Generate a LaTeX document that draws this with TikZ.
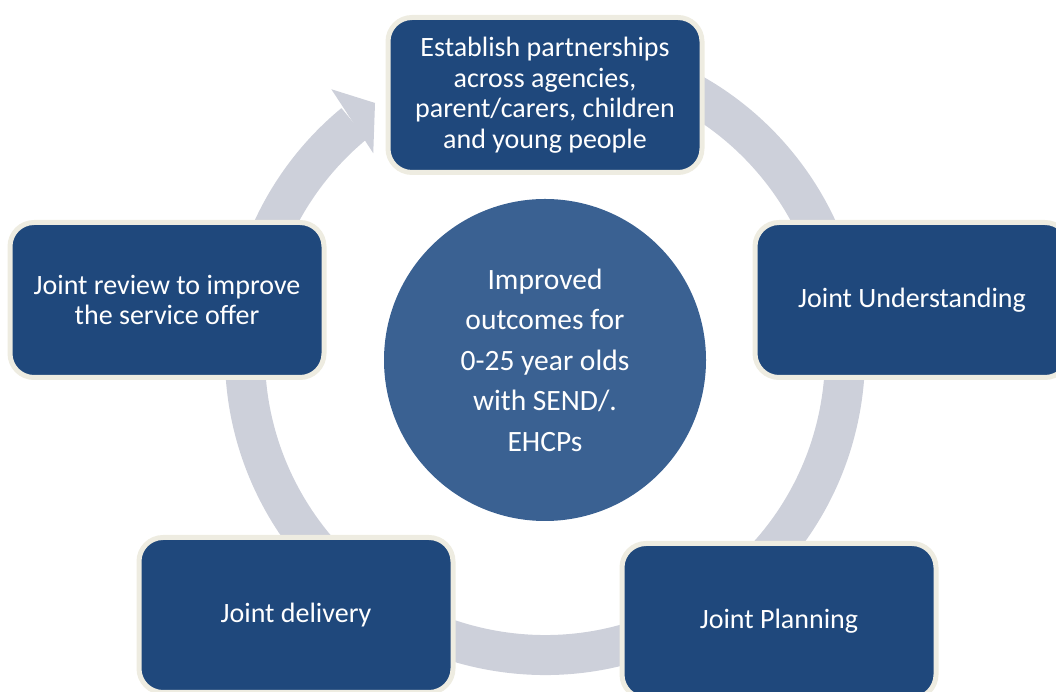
\documentclass[tikz,border=0pt]{standalone}
\usepackage{fontspec}
\setmainfont{Carlito}
\usetikzlibrary{calc, positioning}
\definecolor{stageblue}{HTML}{1F487C}
\definecolor{hubblue}{HTML}{3A6192}
\definecolor{edgecream}{HTML}{EEECE1}
\definecolor{ringgrey}{HTML}{CDD0DA}

\begin{document}
\begin{tikzpicture}[
  x=1pt, y=1pt,
  stage/.style={rectangle, draw=edgecream, line width=5pt, fill=stageblue, rounded corners=24pt, minimum width=314pt, minimum height=155pt, align=center, text=white, font=\fontsize{28}{30.5}\selectfont},
  core/.style={circle, fill=hubblue, minimum size=322pt, inner sep=0pt, align=center, text=white, font=\fontsize{29.5}{40.5}\selectfont},
  ring/.style={draw=ringgrey, line width=40pt}
]
  \useasboundingbox (0,0) rectangle (1056,692);
  \clip (0,0) rectangle (1056,692);

  % cycle arrow behind the stages
  \coordinate (hub) at (545,337);
  \draw[ring] ($(hub)+(80:300pt)$) arc[start angle=80, end angle=-230.5, radius=300pt];
  \fill[ringgrey] ($(hub)+(124:304pt)$) -- ($(hub)+(128.8:341pt)$) -- ($(hub)+(130.4:265pt)$) -- cycle;

  \node[core] (outcome) at (545,332) {Improved\\outcomes for\\0-25 year olds\\with SEND/.\\EHCPs};

  \node[stage] (partner) at (545,597) {Establish partnerships\\across agencies,\\parent/carers, children\\and young people};
  \node[stage] (understand) at (912,392) {Joint Understanding};
  \node[stage] (planning) at (779,71) {Joint Planning};
  \node[stage] (delivery) at (296,77) {Joint delivery};
  \node[stage] (review) at (167,392) {Joint review to improve\\the service offer};
\end{tikzpicture}
\end{document}
